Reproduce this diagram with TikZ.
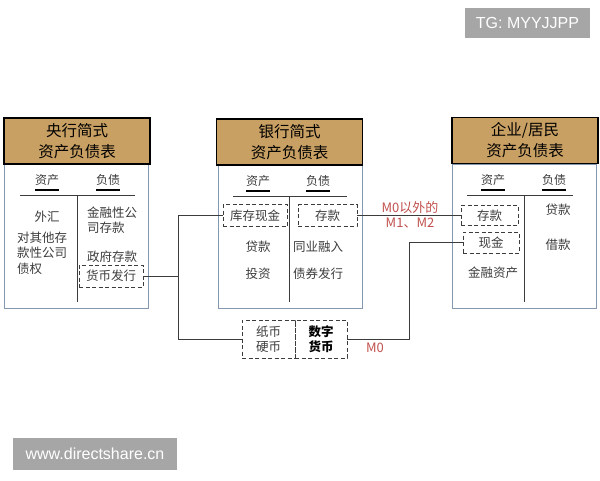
\documentclass[tikz,border=0pt]{standalone}
\usepackage{fontspec}
\setmainfont{Liberation Sans}
\newfontfamily\cjk{Noto Sans CJK SC}
\usetikzlibrary{positioning}
\definecolor{hdrbrown}{RGB}{201,160,99}
\definecolor{boxblue}{RGB}{132,151,176}
\definecolor{txtgray}{RGB}{60,60,60}
\definecolor{mred}{RGB}{192,80,77}
\definecolor{wmgray}{RGB}{166,166,166}
\tikzset{
  hdr/.style={draw=black, line width=1.4pt, fill=hdrbrown, minimum width=146pt,
    minimum height=46pt, inner sep=0pt, align=center,
    font=\cjk\fontsize{15.5}{21}\selectfont},
  panel/.style={draw=boxblue, line width=0.8pt},
  item/.style={text=txtgray, inner sep=1pt, align=center,
    font=\cjk\fontsize{12.5}{15.5}\selectfont},
  colhead/.style={item, inner sep=0pt, font=\cjk\fontsize{12}{14}\selectfont},
  uline/.style={draw=black, line width=1.3pt},
  dbox/.style={item, draw=txtgray, dash pattern=on 4pt off 2.5pt, line width=0.9pt,
    inner sep=0pt},
  tline/.style={draw=txtgray, line width=0.9pt},
  link/.style={draw=txtgray, line width=0.9pt},
  mlabel/.style={text=mred, inner sep=0pt, align=center,
    font=\cjk\fontsize{13}{15}\selectfont},
  wm/.style={fill=wmgray, text=white, inner sep=0pt, font=\fontsize{16}{16}\selectfont}
}
\begin{document}
\begin{tikzpicture}[x=1pt, y=-1pt]
\useasboundingbox (0,0) rectangle (600,480);
% central bank
\draw[panel] (4,164) rectangle (148,308);
\node[hdr] (cbhdr) at (77,141) {央行简式\\资产负债表};
\node[colhead] (cbasset) at (47,180) {资产};
\node[colhead] (cbliab) at (108,180) {负债};
\draw[tline] (20,195) -- (135,195);
\draw[tline] (77,195) -- (77,302);
\draw[uline] (35,190) -- (59,190);
\draw[uline] (96,190) -- (120,190);
\node[item] (waihui) at (47,217) {外汇};
\node[item, anchor=west, align=left] (claims) at (16,253) {对其他存\\款性公司\\债权};
\node[item, anchor=west, align=left] (fdep) at (86,220) {金融性公\\司存款};
\node[item] (gdep) at (112,257) {政府存款};
\node[dbox, minimum width=64pt, minimum height=22pt] (huobi) at (111,276) {货币发行};
% banks
\draw[panel] (218,165) rectangle (362,308);
\node[hdr] (bkhdr) at (289.5,142) {银行简式\\资产负债表};
\node[colhead] (bkasset) at (258,181) {资产};
\node[colhead] (bkliab) at (318,181) {负债};
\draw[tline] (233,196) -- (347,196);
\draw[tline] (289,196) -- (289,302);
\draw[uline] (246,191) -- (270,191);
\draw[uline] (306,191) -- (330,191);
\node[dbox, minimum width=64pt, minimum height=22pt] (kucun) at (255,215.5) {库存现金};
\node[dbox, minimum width=59pt, minimum height=22pt] (bkdep) at (327.5,215.5) {存款};
\node[item] (bkloan) at (258,247) {贷款};
\node[item] (invest) at (258,274) {投资};
\node[item] (interbank) at (318,247) {同业融入};
\node[item] (bonds) at (318,274) {债券发行};
% firms and households
\draw[panel] (452,164) rectangle (596,308);
\node[hdr] (hhhdr) at (525,140.5) {企业/居民\\资产负债表};
\node[colhead] (hhasset) at (493,180) {资产};
\node[colhead] (hhliab) at (554,180) {负债};
\draw[tline] (467,195) -- (573,195);
\draw[tline] (524,195) -- (524,302);
\draw[uline] (481,190) -- (505,190);
\draw[uline] (542,190) -- (566,190);
\node[dbox, minimum width=57pt, minimum height=20pt] (hhdep) at (489.5,215.5) {存款};
\node[dbox, minimum width=56pt, minimum height=21pt] (xianjin) at (491,242.5) {现金};
\node[item] (finasset) at (493,273) {金融资产};
\node[item] (hhloan) at (558,210) {贷款};
\node[item] (borrow) at (558,245) {借款};
% cash in circulation
\node[dbox, minimum width=53pt, minimum height=38pt] (zhibi) at (268.5,339) {纸币\\硬币};
\node[dbox, minimum width=52pt, minimum height=38pt, text=black] (shuzi) at (321,339) {\bfseries 数字\\\bfseries 货币};
% links
\coordinate (jn) at (178,276);
\draw[link] (huobi.east) -- (jn);
\draw[link] (kucun.west) -- (kucun.west -| jn) -- (jn |- zhibi.west) -- (zhibi.west);
\draw[link] (bkdep.east) -- (hhdep.west);
\draw[link] (shuzi.east) -- ++(62,0) |- (xianjin.west);
\node[mlabel] (m12) at (410,214.5) {M0以外的\\M1、M2};
\node[mlabel] (m0) at (375,348) {M0};
% watermarks
\node[wm, minimum width=125pt, minimum height=30pt] (tg) at (527.5,23) {TG: MYYJJPP};
\node[wm, minimum width=164pt, minimum height=32pt] (site) at (95,454) {www.directshare.cn};
\end{tikzpicture}
\end{document}
